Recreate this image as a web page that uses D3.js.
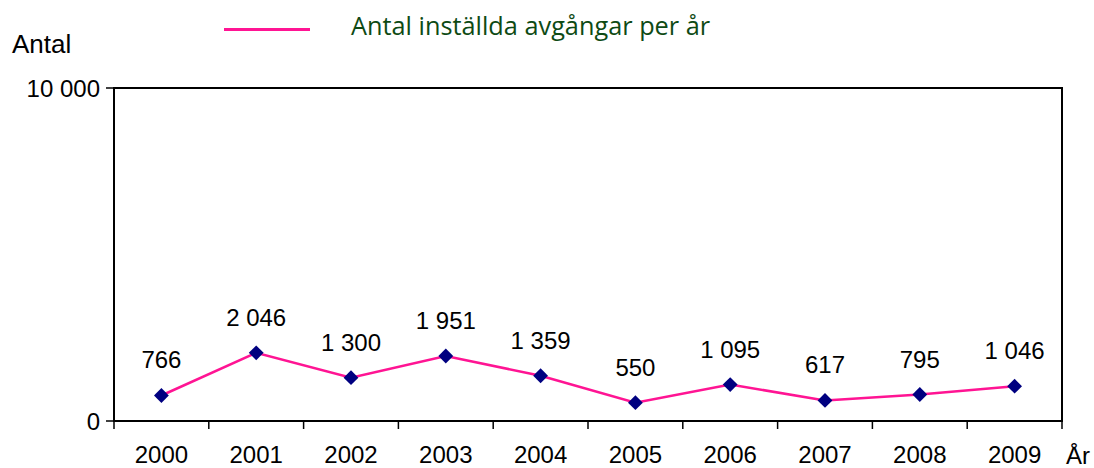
<!DOCTYPE html>
<html>
<head>
<meta charset="utf-8">
<script src="https://cdn.jsdelivr.net/npm/d3@7"></script>
<style>
  body { margin: 0; background: #fff; }
  svg text { font-family: "Liberation Sans", Arial, sans-serif; }
</style>
</head>
<body>
<div id="chart"></div>
<script>
// data
var years = ["2000", "2001", "2002", "2003", "2004", "2005", "2006", "2007", "2008", "2009"];
var values = [766, 2046, 1300, 1951, 1359, 550, 1095, 617, 795, 1046];
var yTicks = [0, 10000];
var seriesName = "Antal inställda avgångar per år";

var W = 1094, H = 468;
var margin = { top: 88, right: 32, bottom: 47, left: 114 };
var width = W - margin.left - margin.right,
    height = H - margin.top - margin.bottom;

var svg = d3.select("#chart").append("svg")
    .attr("width", W)
    .attr("height", H);

var g = svg.append("g")
    .attr("transform", "translate(" + margin.left + "," + margin.top + ")");

var x = d3.scaleBand().domain(years).range([0, width]);
var y = d3.scaleLinear().domain([0, 10000]).range([height, 0]);

var fmt = function(v) { return d3.format(",")(v).replace(/,/g, " "); };

// plot frame
g.append("rect")
    .attr("x", 0).attr("y", 0)
    .attr("width", width).attr("height", height)
    .attr("fill", "none")
    .attr("stroke", "#000")
    .attr("stroke-width", 2);

// x axis ticks at category boundaries
var bounds = years.map(function(d) { return x(d); }).concat([width]);
g.selectAll(".xtick")
    .data(bounds)
    .enter().append("line")
    .attr("x1", function(d) { return d; })
    .attr("x2", function(d) { return d; })
    .attr("y1", height)
    .attr("y2", height + 8)
    .attr("stroke", "#000")
    .attr("stroke-width", 1.5);

g.selectAll(".xlab")
    .data(years)
    .enter().append("text")
    .attr("x", function(d) { return x(d) + x.bandwidth() / 2; })
    .attr("y", height + 42)
    .attr("text-anchor", "middle")
    .style("font-size", "24px")
    .text(function(d) { return d; });

// y axis ticks
g.selectAll(".ytick")
    .data(yTicks)
    .enter().append("line")
    .attr("x1", -8).attr("x2", 0)
    .attr("y1", function(d) { return y(d); })
    .attr("y2", function(d) { return y(d); })
    .attr("stroke", "#000")
    .attr("stroke-width", 1.5);

g.selectAll(".ylab")
    .data(yTicks)
    .enter().append("text")
    .attr("x", -14)
    .attr("y", function(d) { return y(d) + 9; })
    .attr("text-anchor", "end")
    .style("font-size", "24px")
    .text(function(d) { return fmt(d); });

svg.append("text")
    .attr("x", 12).attr("y", 53)
    .style("font-size", "26px")
    .text("Antal");

svg.append("text")
    .attr("x", 1066).attr("y", 464)
    .style("font-size", "24px")
    .text("År");

// line
var line = d3.line()
    .x(function(d, i) { return x(years[i]) + x.bandwidth() / 2; })
    .y(function(d) { return y(d); });

g.append("path")
    .datum(values)
    .attr("d", line)
    .attr("fill", "none")
    .attr("stroke", "#ff1493")
    .attr("stroke-width", 2.5);

// markers
g.selectAll(".pt")
    .data(values)
    .enter().append("path")
    .attr("d", d3.symbol().type(d3.symbolDiamond2).size(140))
    .attr("transform", function(d, i) {
      return "translate(" + (x(years[i]) + x.bandwidth() / 2) + "," + y(d) + ")";
    })
    .attr("fill", "#000080");

// value labels
g.selectAll(".vlab")
    .data(values)
    .enter().append("text")
    .attr("x", function(d, i) { return x(years[i]) + x.bandwidth() / 2; })
    .attr("y", function(d) { return y(d) - 27; })
    .attr("text-anchor", "middle")
    .style("font-size", "24px")
    .text(function(d) { return fmt(d); });

// legend
svg.append("line")
    .attr("x1", 224).attr("x2", 310)
    .attr("y1", 29.5).attr("y2", 29.5)
    .attr("stroke", "#ff1493")
    .attr("stroke-width", 3);

svg.append("text")
    .attr("x", 351).attr("y", 35)
    .attr("fill", "#0e4a14")
    .style("font-family", "'Open Sans', sans-serif")
    .style("font-size", "25.3px")
    .text(seriesName);
</script>
</body>
</html>
